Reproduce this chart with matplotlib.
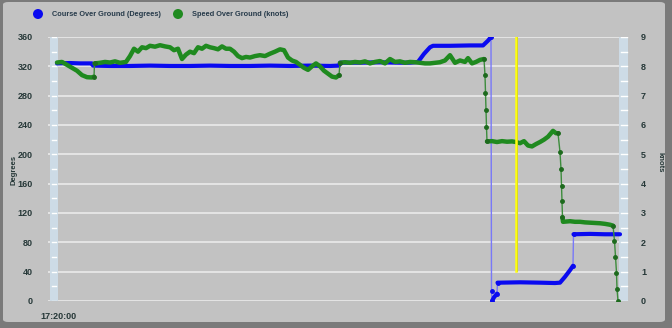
import numpy as np
import matplotlib
matplotlib.use("Agg")
import matplotlib.pyplot as plt
from matplotlib.patches import FancyBboxPatch, Ellipse

plt.rcParams["font.family"] = ["Liberation Sans", "DejaVu Sans"]

# time axis: minutes after 17:20:00
cog_time = [0.0, 1.3, 2.3, 3.5, 3.6, 5.3, 7.3, 9.3, 11.3, 13.3, 15.3, 17.3, 19.3, 21.3,
            23.3, 25.3, 27.3, 28.2, 28.3, 30.3, 32.3, 34.3, 35.3, 36.1, 36.7, 37.3, 37.6,
            39.3, 41.3, 42.6, 43.1, 43.4, 43.45, 43.5, 43.7, 44.0, 44.05, 44.3, 46.3,
            48.3, 49.8, 50.3, 50.8, 51.3, 51.6, 51.65, 53.3, 54.8, 56.3]
cog_deg = [324, 324.5, 324, 324, 321, 320.5, 320.5, 321, 320.5, 320.5, 321, 320.5, 320.5,
           321, 320.5, 321, 320.5, 321, 325, 325, 325.5, 325, 325, 326, 337, 346, 348,
           348, 348.5, 348.5, 355, 360, 14, 0, 5, 10, 25, 25, 25.5, 25, 24.5, 25, 33,
           42, 48, 91, 91.5, 91, 91]

sog_time = [0.0, 0.5, 1.0, 1.5, 2.0, 2.5, 3.0, 3.5, 3.7, 3.75, 4.3, 4.8, 5.3, 5.8, 6.3,
            6.9, 7.3, 7.7, 8.1, 8.5, 8.9, 9.3, 9.8, 10.3, 10.8, 11.3, 11.7, 12.1, 12.5,
            12.9, 13.3, 13.7, 14.1, 14.5, 14.9, 15.3, 15.7, 16.1, 16.5, 16.9, 17.3, 17.7,
            18.1, 18.5, 18.9, 19.3, 19.8, 20.3, 20.8, 21.3, 21.8, 22.3, 22.7, 23.1, 23.5,
            23.9, 24.3, 24.7, 25.1, 25.5, 25.9, 26.3, 26.7, 27.1, 27.5, 27.9, 28.2, 28.3,
            28.8, 29.3, 29.8, 30.3, 30.8, 31.3, 31.8, 32.3, 32.8, 33.3, 33.8, 34.3, 34.8,
            35.3, 35.8, 36.3, 36.8, 37.3, 37.8, 38.3, 38.8, 39.3, 39.8, 40.3, 40.8, 41.1,
            41.5, 41.9, 42.3, 42.7, 42.8, 42.85, 42.9, 42.95, 43.0, 43.5, 44.0, 44.5,
            45.0, 45.5, 45.9, 46.3, 46.7, 47.1, 47.5, 47.9, 48.3, 48.7, 49.1, 49.4, 49.6,
            49.9, 50.1, 50.3, 50.4, 50.45, 50.5, 50.55, 50.6, 51.3, 51.8, 52.3, 52.8,
            53.3, 53.8, 54.3, 54.8, 55.3, 55.6, 55.75, 55.85, 55.95, 56.0, 56.1]
sog_kn = [8.13, 8.15, 8.05, 7.95, 7.85, 7.7, 7.63, 7.62, 7.65, 8.1, 8.12, 8.15, 8.13,
          8.17, 8.12, 8.15, 8.35, 8.6, 8.5, 8.65, 8.62, 8.7, 8.67, 8.72, 8.68, 8.65,
          8.55, 8.6, 8.25, 8.4, 8.5, 8.45, 8.65, 8.6, 8.7, 8.65, 8.62, 8.58, 8.68, 8.6,
          8.6, 8.5, 8.35, 8.28, 8.32, 8.3, 8.35, 8.38, 8.35, 8.43, 8.5, 8.58, 8.55, 8.3,
          8.2, 8.15, 8.05, 7.95, 7.88, 8.0, 8.1, 8.0, 7.85, 7.75, 7.65, 7.62, 7.7, 8.12,
          8.14, 8.12, 8.15, 8.13, 8.17, 8.1, 8.15, 8.18, 8.1, 8.25, 8.15, 8.17, 8.12,
          8.15, 8.14, 8.12, 8.1, 8.1, 8.12, 8.14, 8.2, 8.38, 8.12, 8.2, 8.15, 8.28, 8.1,
          8.15, 8.22, 8.25, 7.7, 7.1, 6.5, 5.93, 5.44, 5.45, 5.42, 5.45, 5.43, 5.44,
          5.42, 5.38, 5.45, 5.3, 5.27, 5.35, 5.42, 5.5, 5.6, 5.72, 5.8, 5.72, 5.72,
          5.08, 4.5, 3.93, 3.42, 2.85, 2.7, 2.72, 2.7, 2.7, 2.68, 2.67, 2.66, 2.65,
          2.63, 2.6, 2.57, 2.05, 1.5, 0.97, 0.42, 0.0]

deg_ticks = list(range(0, 361, 40))
knot_ticks = list(range(0, 10))
marker_time = 45.85
marker_deg = (41, 360)

BLUE = "#0a0af0"
BLUE_THIN = "#7878f8"
GREEN = "#1f8a1f"
TEXT = "#263838"


def split_jumps(ax, t, v, max_slope=3.5):
    """Return the thick line (broken at steep jumps) and the points next to a jump."""
    pts = ax.transData.transform(np.column_stack([t, v]))
    xs, ys = [t[0]], [v[0]]
    near_jump = set()
    for i in range(1, len(t)):
        dx = abs(pts[i, 0] - pts[i - 1, 0])
        dy = abs(pts[i, 1] - pts[i - 1, 1])
        if dy > 5 and dy > max_slope * max(dx, 0.1):
            xs.append(np.nan)
            ys.append(np.nan)
            near_jump.update([i - 1, i])
        xs.append(t[i])
        ys.append(v[i])
    idx = sorted(near_jump)
    return xs, ys, [t[i] for i in idx], [v[i] for i in idx]


fig = plt.figure(figsize=(6.72, 3.28), dpi=100, facecolor="#7a7a7a")
panel = FancyBboxPatch((3 / 672, 6 / 328), 662 / 672, 320 / 328,
                       boxstyle="round,pad=0,rounding_size=0.008",
                       transform=fig.transFigure, facecolor="#c2c2c2",
                       edgecolor="none", zorder=-5)
fig.patches.append(panel)

ax = fig.add_axes([48 / 672, 1 - 301 / 328, 582 / 672, 264 / 328], zorder=1)
ax.set_facecolor("none")
ax.set_xlim(-0.9, 57.3)
ax.set_ylim(0, 360)
for s in ax.spines.values():
    s.set_visible(False)

ax2 = ax.twinx()
ax2.set_zorder(2)
ax2.set_facecolor("none")
ax2.set_ylim(0, 9)
for s in ax2.spines.values():
    s.set_visible(False)

# grid lines and the light blue axis bands
for d in deg_ticks:
    ax.plot([-0.9, 56.2], [d, d], color="#eeeeee", lw=1.1, zorder=1)
band_kw = dict(color="#cddbe6", zorder=2, lw=0)
ax.axvspan(-0.7, 0.1, ymin=0, ymax=1.005, **band_kw)
ax.axvspan(56.2, 57.1, ymin=0, ymax=1.005, **band_kw)
for d in range(0, 361, 20):
    ax.plot([-0.5, -0.1], [d, d], color="white", lw=1, zorder=2.5)
    ax.plot([56.4, 57.0], [d, d], color="white", lw=1, zorder=2.5)

# course over ground
ax.plot(cog_time, cog_deg, color=BLUE_THIN, lw=1, zorder=3)
tx, vy, mx, my = split_jumps(ax, cog_time, cog_deg)
ax.plot(tx, vy, color=BLUE, lw=3, solid_capstyle="round", zorder=3)
ax.plot(mx, my, "o", color=BLUE, ms=2.5, zorder=3)

# speed over ground
ax2.plot(sog_time, sog_kn, color="#3c8c3c", lw=1, zorder=4)
tx, vy, mx, my = split_jumps(ax2, sog_time, sog_kn)
ax2.plot(tx, vy, color=GREEN, lw=3.2, solid_capstyle="round", zorder=4)
ax2.plot(mx, my, "o", color="#1d6a1d", ms=2.5, zorder=4)

# yellow cursor
ax2.plot([marker_time + 0.15] * 2, [m / 40 for m in marker_deg], color="#6a6a20", lw=1.2, zorder=6)
ax2.plot([marker_time] * 2, [m / 40 for m in marker_deg], color="#ffff10", lw=1.8, zorder=7)

ax.set_yticks(deg_ticks)
ax.set_yticklabels([str(d) for d in deg_ticks], fontsize=6.5, fontweight="bold", color=TEXT)
ax2.set_yticks(knot_ticks)
ax2.set_yticklabels([str(k) for k in knot_ticks], fontsize=6.5, fontweight="bold", color=TEXT)
ax.tick_params(axis="y", length=0, pad=11)
ax2.tick_params(axis="y", length=0, pad=8)
ax.set_xticks([0.1])
ax.set_xticklabels(["17:20:00"], fontsize=6.5, fontweight="bold", color=TEXT)
ax.tick_params(axis="x", length=0, pad=8)

fig.text(14 / 672, 1 - 170 / 328, "Degrees", rotation=90, ha="center", va="center",
         fontsize=5.5, fontweight="bold", color=TEXT)
fig.text(660 / 672, 1 - 162 / 328, "knots", rotation=-90, ha="center", va="center",
         fontsize=5.5, fontweight="bold", color=TEXT)

# legend
for cx, label, col in [(38, "Course Over Ground (Degrees)", BLUE),
                       (178, "Speed Over Ground (knots)", GREEN)]:
    fig.patches.append(Ellipse((cx / 672, 1 - 14 / 328), 10 / 672, 10 / 328,
                               transform=fig.transFigure, facecolor=col, edgecolor="none"))
    fig.text((cx + 14) / 672, 1 - 14 / 328, label, ha="left", va="center",
             fontsize=5.3, fontweight="bold", color="#263a4a")

fig.savefig("out.png", dpi=100, facecolor=fig.get_facecolor())
